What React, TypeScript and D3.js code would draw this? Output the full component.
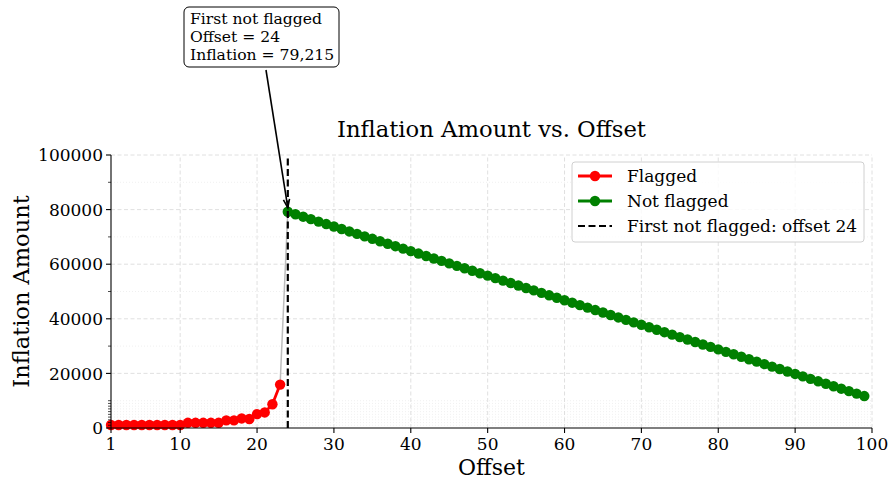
import * as d3 from "d3"

// Inflation amount by offset
const flaggedStart = 1
const flaggedValues = [
  1100, 1100, 1100, 1100, 1100, 1100, 1100, 1100, 1100, 1100,
  1900, 1900, 1900, 1900, 1900, 2800, 2800, 3500, 3300, 5100,
  5700, 8700, 15900,
]
const notFlaggedStart = 24
const notFlaggedValues = [
  79215, 78300, 77400, 76500, 75600, 74700, 73800, 72900, 72000, 71100,
  70200, 69300, 68400, 67500, 66600, 65700, 64800, 63900, 63000, 62100,
  61200, 60300, 59400, 58500, 57600, 56700, 55800, 54900, 54000, 53100,
  52200, 51300, 50400, 49500, 48600, 47700, 46800, 45900, 45000, 44100,
  43200, 42300, 41400, 40500, 39600, 38700, 37800, 36900, 36000, 35100,
  34200, 33300, 32400, 31500, 30600, 29700, 28800, 27900, 27000, 26100,
  25200, 24300, 23400, 22500, 21600, 20700, 19800, 18900, 18000, 17100,
  16200, 15300, 14400, 13500, 12600, 11700,
]
const xTicks = [1, 10, 20, 30, 40, 50, 60, 70, 80, 90, 100]
const yTicks = [0, 20000, 40000, 60000, 80000, 100000]
const yMinorTicks = [1000, 2000, 3000, 4000, 5000, 6000, 7000, 8000, 9000, 10000, 30000, 50000, 70000, 90000]
const firstNotFlagged = 24

const font = "'DejaVu Serif', serif"

export default function App() {
  const width = 891
  const height = 481
  const x = d3.scaleLinear().domain([1, 100]).range([111, 872])
  const y = d3.scaleLinear().domain([0, 100000]).range([428, 155])

  const flagged = flaggedValues.map((v, i) => ({ x: flaggedStart + i, y: v }))
  const notFlagged = notFlaggedValues.map((v, i) => ({ x: notFlaggedStart + i, y: v }))
  const all = [...flagged, ...notFlagged]

  const line = d3
    .line<{ x: number; y: number }>()
    .x((d) => x(d.x))
    .y((d) => y(d.y))

  const firstVal = notFlaggedValues[0]
  const [x0, x1] = x.range()
  const [y0, y1] = y.range()

  // annotation arrow
  const ax1 = 266
  const ay1 = 70
  const ax2 = x(firstNotFlagged)
  const ay2 = y(firstVal) - 4
  const ang = Math.atan2(ay2 - ay1, ax2 - ax1)
  const head = 9
  const spread = 0.35

  const r = 5.2

  return (
    <div style={{ position: "fixed", left: 0, top: 0 }}>
      <svg width={width} height={height} style={{ display: "block", background: "white" }} fontFamily={font}>
        {/* minor grid */}
        {yMinorTicks.map((t) => (
          <line key={"mg" + t} x1={x0} x2={x1} y1={y(t)} y2={y(t)} stroke="#e6e6e6" strokeWidth={0.6} strokeDasharray="1,2" />
        ))}
        {/* major grid */}
        {yTicks.slice(1).map((t) => (
          <line key={"gy" + t} x1={x0} x2={x1} y1={y(t)} y2={y(t)} stroke="#dcdcdc" strokeWidth={0.9} strokeDasharray="4,2.5" />
        ))}
        {xTicks.slice(1).map((t) => (
          <line key={"gx" + t} x1={x(t)} x2={x(t)} y1={y0} y2={y1} stroke="#dcdcdc" strokeWidth={0.9} strokeDasharray="4,2.5" />
        ))}

        {/* gray connector through all points */}
        <path d={line(all) ?? ""} fill="none" stroke="#bdbdbd" strokeWidth={1.5} />

        {/* flagged series */}
        <path d={line(flagged) ?? ""} fill="none" stroke="#ff0000" strokeWidth={2.8} />
        {flagged.map((d) => (
          <circle key={"f" + d.x} cx={x(d.x)} cy={y(d.y)} r={r} fill="#ff0000" />
        ))}

        {/* not flagged series */}
        <path d={line(notFlagged) ?? ""} fill="none" stroke="#008000" strokeWidth={2.8} />
        {notFlagged.map((d) => (
          <circle key={"n" + d.x} cx={x(d.x)} cy={y(d.y)} r={r} fill="#008000" />
        ))}

        {/* first not flagged marker line */}
        <line x1={x(firstNotFlagged)} x2={x(firstNotFlagged)} y1={y0} y2={y1} stroke="#000" strokeWidth={2.2} strokeDasharray="7,3.5" />

        {/* spines */}
        <line x1={x0} x2={x0} y1={y0} y2={y1} stroke="#000" strokeWidth={1.1} />
        <line x1={x0} x2={x1} y1={y0} y2={y0} stroke="#000" strokeWidth={1.1} />

        {/* y ticks */}
        {yMinorTicks.map((t) => (
          <line key={"ym" + t} x1={x0 - 3} x2={x0} y1={y(t)} y2={y(t)} stroke="#000" strokeWidth={0.7} />
        ))}
        {yTicks.map((t) => (
          <g key={"yt" + t}>
            <line x1={x0 - 5} x2={x0} y1={y(t)} y2={y(t)} stroke="#000" strokeWidth={1.1} />
            <text x={x0 - 8} y={y(t)} dy="0.36em" textAnchor="end" fontSize={17} fill="#000">
              {t}
            </text>
          </g>
        ))}

        {/* x ticks */}
        {xTicks.map((t) => (
          <g key={"xt" + t}>
            <line x1={x(t)} x2={x(t)} y1={y0} y2={y0 + 5} stroke="#000" strokeWidth={1.1} />
            <text x={x(t)} y={y0 + 22} textAnchor="middle" fontSize={17} fill="#000">
              {t}
            </text>
          </g>
        ))}

        {/* axis labels */}
        <text x={(x0 + x1) / 2} y={475} textAnchor="middle" fontSize={22} fill="#000">
          Offset
        </text>
        <text transform={`translate(29, ${(y0 + y1) / 2}) rotate(-90)`} textAnchor="middle" fontSize={22.5} fill="#000">
          Inflation Amount
        </text>

        {/* title */}
        <text x={(x0 + x1) / 2} y={137} textAnchor="middle" fontSize={22.7} fill="#000">
          Inflation Amount vs. Offset
        </text>

        {/* legend */}
        <g>
          <rect x={572} y={162} width={292} height={80} rx={3} fill="white" fillOpacity={0.8} stroke="#d0d0d0" strokeWidth={1} />
          <line x1={578} x2={612} y1={176} y2={176} stroke="#ff0000" strokeWidth={2.8} />
          <circle cx={595} cy={176} r={r} fill="#ff0000" />
          <text x={627} y={176} dy="0.36em" fontSize={17} fill="#000">Flagged</text>
          <line x1={578} x2={612} y1={201} y2={201} stroke="#008000" strokeWidth={2.8} />
          <circle cx={595} cy={201} r={r} fill="#008000" />
          <text x={627} y={201} dy="0.36em" fontSize={17} fill="#000">Not flagged</text>
          <line x1={578} x2={612} y1={226} y2={226} stroke="#000" strokeWidth={2.2} strokeDasharray="7,3.5" />
          <text x={627} y={226} dy="0.36em" fontSize={17} fill="#000">First not flagged: offset 24</text>
        </g>

        {/* annotation */}
        <g>
          <line x1={ax1} y1={ay1} x2={ax2} y2={ay2} stroke="#000" strokeWidth={1.6} />
          <path
            d={`M${ax2 - head * Math.cos(ang - spread)},${ay2 - head * Math.sin(ang - spread)} L${ax2},${ay2} L${ax2 - head * Math.cos(ang + spread)},${ay2 - head * Math.sin(ang + spread)}`}
            fill="none"
            stroke="#000"
            strokeWidth={1.6}
          />
          <rect x={184} y={7} width={155} height={60} rx={5} fill="white" stroke="#000" strokeWidth={1} />
          <text x={190} y={24} fontSize={15.6} fill="#000">First not flagged</text>
          <text x={190} y={42} fontSize={15.6} fill="#000">Offset = 24</text>
          <text x={190} y={60} fontSize={15.6} fill="#000">Inflation = {d3.format(",")(firstVal)}</text>
        </g>
      </svg>
    </div>
  )
}
